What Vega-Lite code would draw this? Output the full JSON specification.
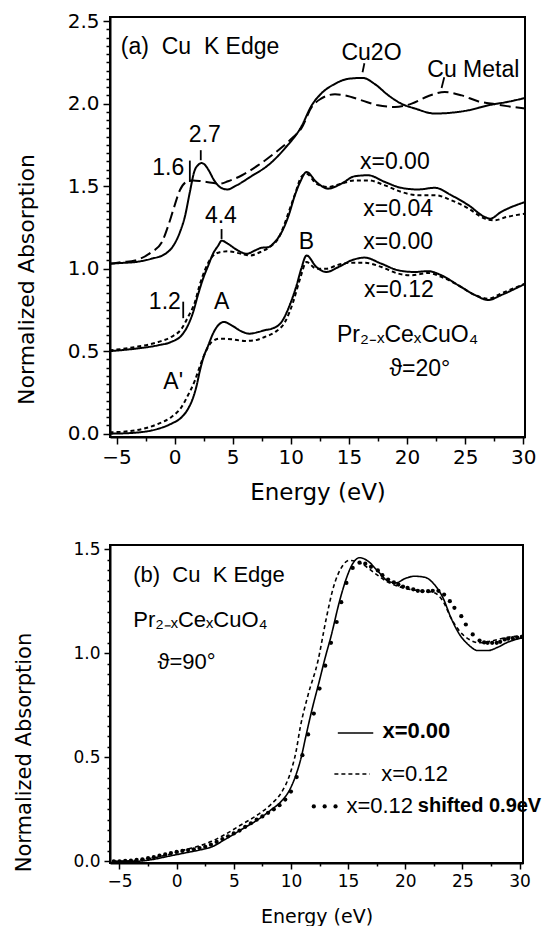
{
  "$schema": "https://vega.github.io/schema/vega-lite/v6.json",
  "padding": {"left": 12, "top": 10, "right": 0, "bottom": 0},
  "spacing": 34,
  "background": "white",
  "config": {
    "view": {"stroke": "black", "strokeWidth": 2},
    "axis": {"grid": false, "labelColor": "black", "titleColor": "black", "tickColor": "black", "domainColor": "black", "labelFont": "DejaVu Sans", "titleFont": "DejaVu Sans", "titleFontWeight": "normal", "domainWidth": 2, "tickWidth": 1.5, "labelOverlap": false, "labelFlush": false},
    "text": {"font": "Liberation Sans Narrow, Liberation Sans, sans-serif", "color": "black"},
    "line": {"color": "black"},
    "rule": {"color": "black"}
  },
  "datasets": {
    "a": [
      {"s": "Cu2O", "E": -5.6, "A": 1.03}, {"s": "Cu2O", "E": -4.5, "A": 1.035}, {"s": "Cu2O", "E": -3.4, "A": 1.04}, {"s": "Cu2O", "E": -2.0, "A": 1.06}, {"s": "Cu2O", "E": -0.8, "A": 1.09}, {"s": "Cu2O", "E": -0.1, "A": 1.14}, {"s": "Cu2O", "E": 0.45, "A": 1.22}, {"s": "Cu2O", "E": 0.9, "A": 1.32}, {"s": "Cu2O", "E": 1.3, "A": 1.46}, {"s": "Cu2O", "E": 1.7, "A": 1.59}, {"s": "Cu2O", "E": 2.05, "A": 1.63}, {"s": "Cu2O", "E": 2.3, "A": 1.64}, {"s": "Cu2O", "E": 2.6, "A": 1.63}, {"s": "Cu2O", "E": 2.9, "A": 1.6}, {"s": "Cu2O", "E": 3.45, "A": 1.53}, {"s": "Cu2O", "E": 4.0, "A": 1.49}, {"s": "Cu2O", "E": 4.55, "A": 1.48}, {"s": "Cu2O", "E": 5.2, "A": 1.5}, {"s": "Cu2O", "E": 6.6, "A": 1.56}, {"s": "Cu2O", "E": 8.1, "A": 1.63}, {"s": "Cu2O", "E": 9.5, "A": 1.73}, {"s": "Cu2O", "E": 10.9, "A": 1.86}, {"s": "Cu2O", "E": 11.8, "A": 1.99}, {"s": "Cu2O", "E": 12.6, "A": 2.06}, {"s": "Cu2O", "E": 13.8, "A": 2.12}, {"s": "Cu2O", "E": 14.9, "A": 2.15}, {"s": "Cu2O", "E": 16.2, "A": 2.156}, {"s": "Cu2O", "E": 17.2, "A": 2.12}, {"s": "Cu2O", "E": 18.4, "A": 2.05}, {"s": "Cu2O", "E": 19.5, "A": 2.0}, {"s": "Cu2O", "E": 20.7, "A": 1.97}, {"s": "Cu2O", "E": 22.4, "A": 1.94}, {"s": "Cu2O", "E": 23.8, "A": 1.945}, {"s": "Cu2O", "E": 25.3, "A": 1.96}, {"s": "Cu2O", "E": 27.0, "A": 1.99}, {"s": "Cu2O", "E": 28.6, "A": 2.01}, {"s": "Cu2O", "E": 30.2, "A": 2.035},
      {"s": "Cu metal", "E": -5.6, "A": 1.03}, {"s": "Cu metal", "E": -4.5, "A": 1.04}, {"s": "Cu metal", "E": -3.4, "A": 1.05}, {"s": "Cu metal", "E": -2.0, "A": 1.1}, {"s": "Cu metal", "E": -1.1, "A": 1.16}, {"s": "Cu metal", "E": -0.55, "A": 1.26}, {"s": "Cu metal", "E": -0.1, "A": 1.36}, {"s": "Cu metal", "E": 0.45, "A": 1.475}, {"s": "Cu metal", "E": 1.0, "A": 1.525}, {"s": "Cu metal", "E": 1.6, "A": 1.535}, {"s": "Cu metal", "E": 2.3, "A": 1.53}, {"s": "Cu metal", "E": 3.2, "A": 1.52}, {"s": "Cu metal", "E": 3.9, "A": 1.515}, {"s": "Cu metal", "E": 4.6, "A": 1.53}, {"s": "Cu metal", "E": 5.8, "A": 1.566}, {"s": "Cu metal", "E": 7.2, "A": 1.627}, {"s": "Cu metal", "E": 8.6, "A": 1.7}, {"s": "Cu metal", "E": 10.1, "A": 1.79}, {"s": "Cu metal", "E": 10.9, "A": 1.85}, {"s": "Cu metal", "E": 11.8, "A": 1.98}, {"s": "Cu metal", "E": 12.6, "A": 2.03}, {"s": "Cu metal", "E": 13.8, "A": 2.057}, {"s": "Cu metal", "E": 14.65, "A": 2.05}, {"s": "Cu metal", "E": 16.1, "A": 2.02}, {"s": "Cu metal", "E": 17.5, "A": 1.99}, {"s": "Cu metal", "E": 18.95, "A": 1.98}, {"s": "Cu metal", "E": 20.4, "A": 2.0}, {"s": "Cu metal", "E": 21.8, "A": 2.045}, {"s": "Cu metal", "E": 23.25, "A": 2.07}, {"s": "Cu metal", "E": 24.7, "A": 2.05}, {"s": "Cu metal", "E": 26.1, "A": 2.015}, {"s": "Cu metal", "E": 27.6, "A": 1.996}, {"s": "Cu metal", "E": 28.6, "A": 1.985}, {"s": "Cu metal", "E": 30.2, "A": 1.97},
      {"s": "x=0.00 top", "E": -5.6, "A": 0.5}, {"s": "x=0.00 top", "E": -3.4, "A": 0.515}, {"s": "x=0.00 top", "E": -1.4, "A": 0.536}, {"s": "x=0.00 top", "E": -0.3, "A": 0.556}, {"s": "x=0.00 top", "E": 0.6, "A": 0.596}, {"s": "x=0.00 top", "E": 1.15, "A": 0.657}, {"s": "x=0.00 top", "E": 1.6, "A": 0.738}, {"s": "x=0.00 top", "E": 2.0, "A": 0.839}, {"s": "x=0.00 top", "E": 2.45, "A": 0.94}, {"s": "x=0.00 top", "E": 2.9, "A": 1.02}, {"s": "x=0.00 top", "E": 3.3, "A": 1.09}, {"s": "x=0.00 top", "E": 3.75, "A": 1.14}, {"s": "x=0.00 top", "E": 4.05, "A": 1.17}, {"s": "x=0.00 top", "E": 4.6, "A": 1.15}, {"s": "x=0.00 top", "E": 5.45, "A": 1.11}, {"s": "x=0.00 top", "E": 6.2, "A": 1.09}, {"s": "x=0.00 top", "E": 6.9, "A": 1.11}, {"s": "x=0.00 top", "E": 7.5, "A": 1.127}, {"s": "x=0.00 top", "E": 8.05, "A": 1.13}, {"s": "x=0.00 top", "E": 8.6, "A": 1.16}, {"s": "x=0.00 top", "E": 9.2, "A": 1.22}, {"s": "x=0.00 top", "E": 9.8, "A": 1.32}, {"s": "x=0.00 top", "E": 10.35, "A": 1.445}, {"s": "x=0.00 top", "E": 10.8, "A": 1.525}, {"s": "x=0.00 top", "E": 11.35, "A": 1.586}, {"s": "x=0.00 top", "E": 12.2, "A": 1.525}, {"s": "x=0.00 top", "E": 13.2, "A": 1.485}, {"s": "x=0.00 top", "E": 14.35, "A": 1.515}, {"s": "x=0.00 top", "E": 15.5, "A": 1.56}, {"s": "x=0.00 top", "E": 16.65, "A": 1.566}, {"s": "x=0.00 top", "E": 18.1, "A": 1.525}, {"s": "x=0.00 top", "E": 19.5, "A": 1.49}, {"s": "x=0.00 top", "E": 20.95, "A": 1.48}, {"s": "x=0.00 top", "E": 22.4, "A": 1.49}, {"s": "x=0.00 top", "E": 23.8, "A": 1.445}, {"s": "x=0.00 top", "E": 25.3, "A": 1.384}, {"s": "x=0.00 top", "E": 26.7, "A": 1.313}, {"s": "x=0.00 top", "E": 27.15, "A": 1.303}, {"s": "x=0.00 top", "E": 28.1, "A": 1.344}, {"s": "x=0.00 top", "E": 30.2, "A": 1.405},
      {"s": "x=0.04", "E": -5.6, "A": 0.505}, {"s": "x=0.04", "E": -3.4, "A": 0.525}, {"s": "x=0.04", "E": -1.4, "A": 0.556}, {"s": "x=0.04", "E": -0.3, "A": 0.586}, {"s": "x=0.04", "E": 0.6, "A": 0.636}, {"s": "x=0.04", "E": 1.15, "A": 0.707}, {"s": "x=0.04", "E": 1.75, "A": 0.798}, {"s": "x=0.04", "E": 2.15, "A": 0.9}, {"s": "x=0.04", "E": 2.6, "A": 0.99}, {"s": "x=0.04", "E": 3.2, "A": 1.07}, {"s": "x=0.04", "E": 3.9, "A": 1.1}, {"s": "x=0.04", "E": 4.6, "A": 1.105}, {"s": "x=0.04", "E": 5.75, "A": 1.09}, {"s": "x=0.04", "E": 6.45, "A": 1.08}, {"s": "x=0.04", "E": 7.5, "A": 1.105}, {"s": "x=0.04", "E": 8.35, "A": 1.14}, {"s": "x=0.04", "E": 8.9, "A": 1.18}, {"s": "x=0.04", "E": 9.4, "A": 1.26}, {"s": "x=0.04", "E": 9.9, "A": 1.36}, {"s": "x=0.04", "E": 10.4, "A": 1.46}, {"s": "x=0.04", "E": 10.9, "A": 1.556}, {"s": "x=0.04", "E": 11.35, "A": 1.575}, {"s": "x=0.04", "E": 12.2, "A": 1.515}, {"s": "x=0.04", "E": 13.2, "A": 1.495}, {"s": "x=0.04", "E": 14.35, "A": 1.515}, {"s": "x=0.04", "E": 15.5, "A": 1.535}, {"s": "x=0.04", "E": 16.65, "A": 1.535}, {"s": "x=0.04", "E": 18.1, "A": 1.505}, {"s": "x=0.04", "E": 19.5, "A": 1.465}, {"s": "x=0.04", "E": 20.95, "A": 1.445}, {"s": "x=0.04", "E": 22.4, "A": 1.445}, {"s": "x=0.04", "E": 23.8, "A": 1.415}, {"s": "x=0.04", "E": 25.3, "A": 1.364}, {"s": "x=0.04", "E": 26.7, "A": 1.303}, {"s": "x=0.04", "E": 27.55, "A": 1.293}, {"s": "x=0.04", "E": 28.55, "A": 1.313}, {"s": "x=0.04", "E": 30.2, "A": 1.333},
      {"s": "x=0.00", "E": -5.6, "A": 0.0}, {"s": "x=0.00", "E": -3.4, "A": 0.006}, {"s": "x=0.00", "E": -1.4, "A": 0.03}, {"s": "x=0.00", "E": -0.3, "A": 0.06}, {"s": "x=0.00", "E": 0.6, "A": 0.1}, {"s": "x=0.00", "E": 1.15, "A": 0.15}, {"s": "x=0.00", "E": 1.6, "A": 0.22}, {"s": "x=0.00", "E": 1.9, "A": 0.293}, {"s": "x=0.00", "E": 2.15, "A": 0.374}, {"s": "x=0.00", "E": 2.45, "A": 0.455}, {"s": "x=0.00", "E": 2.9, "A": 0.536}, {"s": "x=0.00", "E": 3.3, "A": 0.606}, {"s": "x=0.00", "E": 3.75, "A": 0.657}, {"s": "x=0.00", "E": 4.25, "A": 0.677}, {"s": "x=0.00", "E": 4.9, "A": 0.657}, {"s": "x=0.00", "E": 5.75, "A": 0.62}, {"s": "x=0.00", "E": 6.45, "A": 0.606}, {"s": "x=0.00", "E": 7.2, "A": 0.616}, {"s": "x=0.00", "E": 7.75, "A": 0.627}, {"s": "x=0.00", "E": 8.35, "A": 0.636}, {"s": "x=0.00", "E": 9.2, "A": 0.677}, {"s": "x=0.00", "E": 9.9, "A": 0.778}, {"s": "x=0.00", "E": 10.5, "A": 0.9}, {"s": "x=0.00", "E": 10.9, "A": 1.0}, {"s": "x=0.00", "E": 11.35, "A": 1.08}, {"s": "x=0.00", "E": 12.2, "A": 1.01}, {"s": "x=0.00", "E": 13.05, "A": 0.98}, {"s": "x=0.00", "E": 14.1, "A": 1.01}, {"s": "x=0.00", "E": 15.2, "A": 1.05}, {"s": "x=0.00", "E": 16.35, "A": 1.067}, {"s": "x=0.00", "E": 17.8, "A": 1.03}, {"s": "x=0.00", "E": 19.25, "A": 0.99}, {"s": "x=0.00", "E": 20.65, "A": 0.98}, {"s": "x=0.00", "E": 21.8, "A": 0.985}, {"s": "x=0.00", "E": 22.95, "A": 0.96}, {"s": "x=0.00", "E": 24.4, "A": 0.9}, {"s": "x=0.00", "E": 25.85, "A": 0.84}, {"s": "x=0.00", "E": 27.0, "A": 0.81}, {"s": "x=0.00", "E": 28.1, "A": 0.84}, {"s": "x=0.00", "E": 30.2, "A": 0.91},
      {"s": "x=0.12", "E": -5.6, "A": 0.008}, {"s": "x=0.12", "E": -3.4, "A": 0.02}, {"s": "x=0.12", "E": -1.4, "A": 0.06}, {"s": "x=0.12", "E": -0.3, "A": 0.1}, {"s": "x=0.12", "E": 0.6, "A": 0.162}, {"s": "x=0.12", "E": 1.15, "A": 0.233}, {"s": "x=0.12", "E": 1.75, "A": 0.323}, {"s": "x=0.12", "E": 2.15, "A": 0.404}, {"s": "x=0.12", "E": 2.6, "A": 0.485}, {"s": "x=0.12", "E": 3.2, "A": 0.556}, {"s": "x=0.12", "E": 3.9, "A": 0.576}, {"s": "x=0.12", "E": 4.9, "A": 0.572}, {"s": "x=0.12", "E": 6.05, "A": 0.562}, {"s": "x=0.12", "E": 6.9, "A": 0.566}, {"s": "x=0.12", "E": 7.75, "A": 0.586}, {"s": "x=0.12", "E": 8.65, "A": 0.616}, {"s": "x=0.12", "E": 9.5, "A": 0.677}, {"s": "x=0.12", "E": 10.2, "A": 0.798}, {"s": "x=0.12", "E": 10.8, "A": 0.94}, {"s": "x=0.12", "E": 11.35, "A": 1.04}, {"s": "x=0.12", "E": 12.2, "A": 1.0}, {"s": "x=0.12", "E": 13.05, "A": 1.0}, {"s": "x=0.12", "E": 14.1, "A": 1.024}, {"s": "x=0.12", "E": 15.2, "A": 1.036}, {"s": "x=0.12", "E": 16.35, "A": 1.036}, {"s": "x=0.12", "E": 17.8, "A": 1.01}, {"s": "x=0.12", "E": 19.25, "A": 0.97}, {"s": "x=0.12", "E": 20.4, "A": 0.96}, {"s": "x=0.12", "E": 21.8, "A": 0.974}, {"s": "x=0.12", "E": 22.95, "A": 0.95}, {"s": "x=0.12", "E": 24.4, "A": 0.9}, {"s": "x=0.12", "E": 25.85, "A": 0.84}, {"s": "x=0.12", "E": 27.0, "A": 0.818}, {"s": "x=0.12", "E": 28.1, "A": 0.85}, {"s": "x=0.12", "E": 30.2, "A": 0.91}
    ],
    "a_ticks": [
      {"E": 1.31, "E2": 1.31, "A": 1.525, "A2": 1.655},
      {"E": 2.25, "E2": 2.25, "A": 1.657, "A2": 1.718},
      {"E": 4.04, "E2": 4.04, "A": 1.18, "A2": 1.24},
      {"E": 0.74, "E2": 0.74, "A": 0.7, "A2": 0.8},
      {"E": 16.33, "E2": 16.17, "A": 2.245, "A2": 2.19},
      {"E": 23.2, "E2": 22.97, "A": 2.16, "A2": 2.095}
    ],
    "a_txt": [
      {"E": 16.94, "A": 2.305, "t": "Cu2O"},
      {"E": 25.7, "A": 2.205, "t": "Cu Metal"},
      {"E": 2.6, "A": 1.81, "t": "2.7"},
      {"E": -0.55, "A": 1.61, "t": "1.6"},
      {"E": 3.98, "A": 1.32, "t": "4.4"},
      {"E": -0.84, "A": 0.8, "t": "1.2"},
      {"E": 4.04, "A": 0.8, "t": "A"},
      {"E": -0.12, "A": 0.313, "t": "A'"},
      {"E": 11.35, "A": 1.16, "t": "B"},
      {"E": 18.95, "A": 1.647, "t": "x=0.00"},
      {"E": 19.24, "A": 1.364, "t": "x=0.04"},
      {"E": 19.24, "A": 1.16, "t": "x=0.00"},
      {"E": 19.3, "A": 0.87, "t": "x=0.12"},
      {"E": 20.04, "A": 0.596, "t": "Pr₂₋ₓCeₓCuO₄"},
      {"E": 21.1, "A": 0.394, "t": "ϑ=20°"}
    ],
    "a_txtL": [
      {"E": -4.63, "A": 2.344, "t": "(a)\u00a0\u00a0Cu\u00a0\u00a0K Edge"}
    ],
    "b": [
      {"s": "x=0.00", "E": -5.6, "A": 0.0}, {"s": "x=0.00", "E": -3.7, "A": 0.0}, {"s": "x=0.00", "E": -2.2, "A": 0.008}, {"s": "x=0.00", "E": -0.75, "A": 0.024}, {"s": "x=0.00", "E": 0.7, "A": 0.04}, {"s": "x=0.00", "E": 2.15, "A": 0.056}, {"s": "x=0.00", "E": 3.05, "A": 0.069}, {"s": "x=0.00", "E": 4.2, "A": 0.104}, {"s": "x=0.00", "E": 5.65, "A": 0.152}, {"s": "x=0.00", "E": 7.1, "A": 0.2}, {"s": "x=0.00", "E": 8.3, "A": 0.249}, {"s": "x=0.00", "E": 9.15, "A": 0.288}, {"s": "x=0.00", "E": 9.9, "A": 0.345}, {"s": "x=0.00", "E": 10.45, "A": 0.417}, {"s": "x=0.00", "E": 10.9, "A": 0.5}, {"s": "x=0.00", "E": 11.3, "A": 0.6}, {"s": "x=0.00", "E": 11.8, "A": 0.72}, {"s": "x=0.00", "E": 12.5, "A": 0.87}, {"s": "x=0.00", "E": 13.0, "A": 0.98}, {"s": "x=0.00", "E": 13.5, "A": 1.08}, {"s": "x=0.00", "E": 14.25, "A": 1.25}, {"s": "x=0.00", "E": 14.85, "A": 1.36}, {"s": "x=0.00", "E": 15.4, "A": 1.43}, {"s": "x=0.00", "E": 16.0, "A": 1.459}, {"s": "x=0.00", "E": 16.75, "A": 1.442}, {"s": "x=0.00", "E": 17.6, "A": 1.394}, {"s": "x=0.00", "E": 18.5, "A": 1.346}, {"s": "x=0.00", "E": 19.2, "A": 1.338}, {"s": "x=0.00", "E": 19.95, "A": 1.358}, {"s": "x=0.00", "E": 20.8, "A": 1.37}, {"s": "x=0.00", "E": 21.7, "A": 1.365}, {"s": "x=0.00", "E": 22.55, "A": 1.33}, {"s": "x=0.00", "E": 23.3, "A": 1.266}, {"s": "x=0.00", "E": 24.0, "A": 1.17}, {"s": "x=0.00", "E": 24.75, "A": 1.09}, {"s": "x=0.00", "E": 25.5, "A": 1.042}, {"s": "x=0.00", "E": 26.35, "A": 1.013}, {"s": "x=0.00", "E": 27.25, "A": 1.013}, {"s": "x=0.00", "E": 28.1, "A": 1.029}, {"s": "x=0.00", "E": 28.85, "A": 1.05}, {"s": "x=0.00", "E": 30.3, "A": 1.075},
      {"s": "x=0.12", "E": -5.6, "A": 0.0}, {"s": "x=0.12", "E": -3.7, "A": 0.004}, {"s": "x=0.12", "E": -2.2, "A": 0.015}, {"s": "x=0.12", "E": -0.75, "A": 0.032}, {"s": "x=0.12", "E": 0.7, "A": 0.055}, {"s": "x=0.12", "E": 2.15, "A": 0.077}, {"s": "x=0.12", "E": 3.0, "A": 0.095}, {"s": "x=0.12", "E": 4.2, "A": 0.128}, {"s": "x=0.12", "E": 5.65, "A": 0.176}, {"s": "x=0.12", "E": 7.1, "A": 0.224}, {"s": "x=0.12", "E": 8.3, "A": 0.276}, {"s": "x=0.12", "E": 9.15, "A": 0.329}, {"s": "x=0.12", "E": 9.9, "A": 0.417}, {"s": "x=0.12", "E": 10.45, "A": 0.529}, {"s": "x=0.12", "E": 10.8, "A": 0.64}, {"s": "x=0.12", "E": 11.5, "A": 0.8}, {"s": "x=0.12", "E": 12.35, "A": 0.96}, {"s": "x=0.12", "E": 13.1, "A": 1.17}, {"s": "x=0.12", "E": 13.7, "A": 1.314}, {"s": "x=0.12", "E": 14.4, "A": 1.41}, {"s": "x=0.12", "E": 15.1, "A": 1.446}, {"s": "x=0.12", "E": 15.7, "A": 1.442}, {"s": "x=0.12", "E": 16.3, "A": 1.426}, {"s": "x=0.12", "E": 17.3, "A": 1.386}, {"s": "x=0.12", "E": 18.35, "A": 1.346}, {"s": "x=0.12", "E": 19.35, "A": 1.322}, {"s": "x=0.12", "E": 20.5, "A": 1.306}, {"s": "x=0.12", "E": 21.7, "A": 1.298}, {"s": "x=0.12", "E": 22.55, "A": 1.29}, {"s": "x=0.12", "E": 23.3, "A": 1.25}, {"s": "x=0.12", "E": 24.0, "A": 1.17}, {"s": "x=0.12", "E": 24.75, "A": 1.106}, {"s": "x=0.12", "E": 25.6, "A": 1.066}, {"s": "x=0.12", "E": 26.5, "A": 1.05}, {"s": "x=0.12", "E": 27.5, "A": 1.058}, {"s": "x=0.12", "E": 28.7, "A": 1.074}, {"s": "x=0.12", "E": 30.3, "A": 1.085}
    ],
    "b_dots": [
      {"E": -5.5, "A": 0.0}, {"E": -5.0, "A": 0.0}, {"E": -4.5, "A": 0.002}, {"E": -4.0, "A": 0.004}, {"E": -3.5, "A": 0.007}, {"E": -3.0, "A": 0.01}, {"E": -2.5, "A": 0.015}, {"E": -2.0, "A": 0.02}, {"E": -1.5, "A": 0.027}, {"E": -1.0, "A": 0.033}, {"E": -0.5, "A": 0.04}, {"E": 0.0, "A": 0.045}, {"E": 0.5, "A": 0.05}, {"E": 1.0, "A": 0.054}, {"E": 1.5, "A": 0.058}, {"E": 2.0, "A": 0.064}, {"E": 2.5, "A": 0.07}, {"E": 3.0, "A": 0.08}, {"E": 3.5, "A": 0.093}, {"E": 4.0, "A": 0.107}, {"E": 4.5, "A": 0.12}, {"E": 5.0, "A": 0.134}, {"E": 5.5, "A": 0.148}, {"E": 6.0, "A": 0.166}, {"E": 6.5, "A": 0.183}, {"E": 7.0, "A": 0.2}, {"E": 7.5, "A": 0.216}, {"E": 8.0, "A": 0.233}, {"E": 8.5, "A": 0.25}, {"E": 9.0, "A": 0.27}, {"E": 9.5, "A": 0.297}, {"E": 10.0, "A": 0.335}, {"E": 10.5, "A": 0.405}, {"E": 11.0, "A": 0.51}, {"E": 11.5, "A": 0.61}, {"E": 12.0, "A": 0.71}, {"E": 12.5, "A": 0.83}, {"E": 13.0, "A": 0.94}, {"E": 13.5, "A": 1.05}, {"E": 14.0, "A": 1.15}, {"E": 14.4, "A": 1.245}, {"E": 14.85, "A": 1.338}, {"E": 15.4, "A": 1.41}, {"E": 16.0, "A": 1.435}, {"E": 16.5, "A": 1.43}, {"E": 17.0, "A": 1.415}, {"E": 17.6, "A": 1.398}, {"E": 18.0, "A": 1.375}, {"E": 18.5, "A": 1.354}, {"E": 19.0, "A": 1.34}, {"E": 19.4, "A": 1.33}, {"E": 19.8, "A": 1.32}, {"E": 20.2, "A": 1.314}, {"E": 20.7, "A": 1.307}, {"E": 21.1, "A": 1.3}, {"E": 21.5, "A": 1.298}, {"E": 22.0, "A": 1.298}, {"E": 22.4, "A": 1.3}, {"E": 22.9, "A": 1.3}, {"E": 23.4, "A": 1.282}, {"E": 23.9, "A": 1.25}, {"E": 24.3, "A": 1.218}, {"E": 24.9, "A": 1.178}, {"E": 25.3, "A": 1.138}, {"E": 25.9, "A": 1.09}, {"E": 26.5, "A": 1.061}, {"E": 26.9, "A": 1.052}, {"E": 27.2, "A": 1.05}, {"E": 27.6, "A": 1.05}, {"E": 28.0, "A": 1.05}, {"E": 28.3, "A": 1.055}, {"E": 28.7, "A": 1.066}, {"E": 29.0, "A": 1.07}, {"E": 29.4, "A": 1.072}, {"E": 29.8, "A": 1.075}, {"E": 30.2, "A": 1.078}
    ],
    "b_leg_rules": [
      {"s": "x=0.00", "E": 14.1, "E2": 17.2, "A": 0.617},
      {"s": "x=0.12", "E": 13.8, "E2": 16.9, "A": 0.42}
    ],
    "b_leg_dots": [
      {"E": 12.0, "A": 0.264}, {"E": 12.95, "A": 0.264}, {"E": 13.9, "A": 0.264}
    ],
    "b_txtL": [
      {"E": -3.8, "A": 1.378, "t": "(b)\u00a0\u00a0Cu\u00a0\u00a0K Edge"},
      {"E": -3.8, "A": 1.162, "t": "Pr₂₋ₓCeₓCuO₄"},
      {"E": 17.9, "A": 0.42, "t": "x=0.12"},
      {"E": 14.85, "A": 0.264, "t": "x=0.12"}
    ],
    "b_txtB": [
      {"E": 18.0, "A": 0.628, "t": "x=0.00"}
    ],
    "b_txtS": [
      {"E": 21.1, "A": 0.264, "t": "shifted 0.9eV"}
    ],
    "b_txtC": [
      {"E": 0.86, "A": 0.96, "t": "ϑ=90°"}
    ]
  },
  "vconcat": [
    {
      "width": 415,
      "height": 420,
      "encoding": {
        "x": {"field": "E", "type": "quantitative", "scale": {"domain": [-5.56, 30.15], "nice": false, "zero": false},
          "axis": {"title": "Energy (eV)", "values": [-5, -2.5, 0, 2.5, 5, 7.5, 10, 12.5, 15, 17.5, 20, 22.5, 25, 27.5, 30], "labelExpr": "abs(datum.value/5 - round(datum.value/5)) < 0.001 ? format(datum.value, 'd') : ''", "tickSize": {"condition": {"test": "abs(datum.value/5 - round(datum.value/5)) < 0.001", "value": 7}, "value": 4}, "labelFontSize": 20, "labelPadding": 3, "titleFontSize": 23, "titleY": 55, "titleBaseline": "middle"}},
        "y": {"field": "A", "type": "quantitative", "scale": {"domain": [-0.02, 2.525], "nice": false, "zero": false},
          "axis": {"title": "Normalized Absorption", "values": [0, 0.05, 0.1, 0.15, 0.2, 0.25, 0.3, 0.35, 0.4, 0.45, 0.5, 0.55, 0.6, 0.65, 0.7, 0.75, 0.8, 0.85, 0.9, 0.95, 1.0, 1.05, 1.1, 1.15, 1.2, 1.25, 1.3, 1.35, 1.4, 1.45, 1.5, 1.55, 1.6, 1.65, 1.7, 1.75, 1.8, 1.85, 1.9, 1.95, 2.0, 2.05, 2.1, 2.15, 2.2, 2.25, 2.3, 2.35, 2.4, 2.45, 2.5], "labelExpr": "abs(datum.value/0.5 - round(datum.value/0.5)) < 0.001 ? format(datum.value, '.1f') : ''", "tickSize": {"condition": {"test": "abs(datum.value/0.5 - round(datum.value/0.5)) < 0.001", "value": 7}, "value": 4}, "labelFontSize": 20, "labelPadding": 4, "titleFontSize": 22, "titleX": -84, "titleY": 262, "titleBaseline": "middle"}}
      },
      "layer": [
        {
          "data": {"name": "a"},
          "mark": {"type": "line", "interpolate": "monotone", "clip": true, "strokeWidth": 2},
          "encoding": {
            "strokeDash": {"field": "s", "type": "nominal", "legend": null, "scale": {"domain": ["Cu2O", "Cu metal", "x=0.00 top", "x=0.04", "x=0.00", "x=0.12"], "range": [[1, 0], [11, 5], [1, 0], [4, 3], [1, 0], [4, 3]]}}
          }
        },
        {
          "data": {"name": "a_ticks"},
          "mark": {"type": "rule", "strokeWidth": 1.8},
          "encoding": {"x2": {"field": "E2"}, "y2": {"field": "A2"}}
        },
        {
          "data": {"name": "a_txt"},
          "mark": {"type": "text", "fontSize": 23, "align": "center", "baseline": "middle"},
          "encoding": {"text": {"field": "t"}}
        },
        {
          "data": {"name": "a_txtL"},
          "mark": {"type": "text", "fontSize": 23, "align": "left", "baseline": "middle"},
          "encoding": {"text": {"field": "t"}}
        }
      ]
    },
    {
      "width": 413,
      "height": 318,
      "encoding": {
        "x": {"field": "E", "type": "quantitative", "scale": {"domain": [-5.83, 30.3], "nice": false, "zero": false},
          "axis": {"title": "Energy (eV)", "values": [-5, -2.5, 0, 2.5, 5, 7.5, 10, 12.5, 15, 17.5, 20, 22.5, 25, 27.5, 30], "labelExpr": "abs(datum.value/5 - round(datum.value/5)) < 0.001 ? format(datum.value, 'd') : ''", "tickSize": {"condition": {"test": "abs(datum.value/5 - round(datum.value/5)) < 0.001", "value": 6}, "value": 3}, "labelFontSize": 17, "labelPadding": 4, "titleFontSize": 19, "titleY": 53, "titleBaseline": "middle"}},
        "y": {"field": "A", "type": "quantitative", "scale": {"domain": [-0.008, 1.52], "nice": false, "zero": false},
          "axis": {"title": "Normalized Absorption", "values": [0, 0.05, 0.1, 0.15, 0.2, 0.25, 0.3, 0.35, 0.4, 0.45, 0.5, 0.55, 0.6, 0.65, 0.7, 0.75, 0.8, 0.85, 0.9, 0.95, 1.0, 1.05, 1.1, 1.15, 1.2, 1.25, 1.3, 1.35, 1.4, 1.45, 1.5], "labelExpr": "abs(datum.value/0.5 - round(datum.value/0.5)) < 0.001 ? format(datum.value, '.1f') : ''", "tickSize": {"condition": {"test": "abs(datum.value/0.5 - round(datum.value/0.5)) < 0.001", "value": 6}, "value": 3}, "labelFontSize": 17, "labelPadding": 4, "titleFontSize": 21, "titleX": -86, "titleY": 207, "titleBaseline": "middle"}}
      },
      "layer": [
        {
          "data": {"name": "b"},
          "mark": {"type": "line", "interpolate": "monotone", "clip": true, "strokeWidth": 1.6},
          "encoding": {
            "strokeDash": {"field": "s", "type": "nominal", "legend": null, "scale": {"domain": ["x=0.00", "x=0.12"], "range": [[1, 0], [5, 3]]}}
          }
        },
        {
          "data": {"name": "b_dots"},
          "mark": {"type": "point", "filled": true, "color": "black", "opacity": 1, "size": 18, "clip": true}
        },
        {
          "data": {"name": "b_leg_rules"},
          "mark": {"type": "rule", "strokeWidth": 1.6},
          "encoding": {"x2": {"field": "E2"}, "strokeDash": {"field": "s", "type": "nominal", "legend": null}}
        },
        {
          "data": {"name": "b_leg_dots"},
          "mark": {"type": "point", "filled": true, "color": "black", "opacity": 1, "size": 18}
        },
        {
          "data": {"name": "b_txtL"},
          "mark": {"type": "text", "fontSize": 22, "align": "left", "baseline": "middle"},
          "encoding": {"text": {"field": "t"}}
        },
        {
          "data": {"name": "b_txtB"},
          "mark": {"type": "text", "fontSize": 22, "fontWeight": "bold", "align": "left", "baseline": "middle"},
          "encoding": {"text": {"field": "t"}}
        },
        {
          "data": {"name": "b_txtS"},
          "mark": {"type": "text", "fontSize": 20, "fontWeight": "bold", "align": "left", "baseline": "middle"},
          "encoding": {"text": {"field": "t"}}
        },
        {
          "data": {"name": "b_txtC"},
          "mark": {"type": "text", "fontSize": 22, "align": "center", "baseline": "middle"},
          "encoding": {"text": {"field": "t"}}
        }
      ]
    }
  ]
}
